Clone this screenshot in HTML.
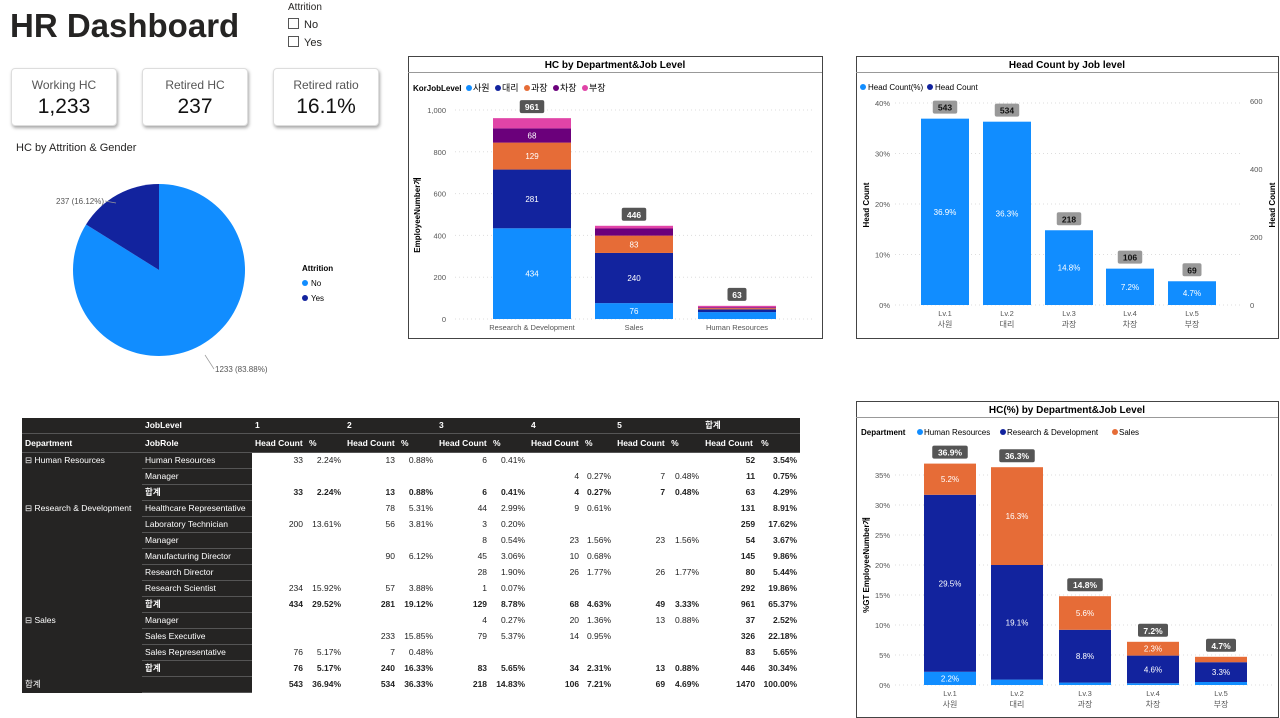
<!DOCTYPE html>
<html><head><meta charset="utf-8">
<style>
body{margin:0;width:1280px;height:718px;background:#fff;font-family:"Liberation Sans","Noto Sans CJK KR",sans-serif;position:relative;overflow:hidden;color:#252423}
.abs{position:absolute}
.card{position:absolute;top:68px;width:104px;height:56px;background:#fff;border-radius:4px;box-shadow:1px 2px 3px rgba(0,0,0,.35);border:1px solid #ddd;text-align:center}
.card .l{font-size:12px;color:#555;margin-top:9px}
.card .v{font-size:21px;color:#111;margin-top:3px}
table{border-collapse:collapse;font-size:8.5px;position:absolute;left:22px;top:418px;table-layout:fixed;width:778px}
td{height:15px;padding:0 3px;white-space:nowrap;overflow:hidden;line-height:15px}
.dk{background:#252423;color:#fff;font-weight:bold;border-bottom:1px solid #555}
.n{text-align:right;background:#fff;color:#222}
.b{font-weight:bold}
</style></head><body>
<div class="abs" style="left:10px;top:7px;font-size:33px;font-weight:bold;color:#252423">HR Dashboard</div>
<div class="abs" style="left:288px;top:2px;font-size:10px">
<div>Attrition</div>
<div style="margin-top:5px;font-size:11px"><span style="display:inline-block;width:9px;height:9px;border:1px solid #555;vertical-align:-1px;margin-right:5px"></span>No</div>
<div style="margin-top:5px;font-size:11px"><span style="display:inline-block;width:9px;height:9px;border:1px solid #555;vertical-align:-1px;margin-right:5px"></span>Yes</div>
</div>
<div class="card" style="left:11px"><div class="l">Working HC</div><div class="v">1,233</div></div>
<div class="card" style="left:142px"><div class="l">Retired HC</div><div class="v">237</div></div>
<div class="card" style="left:273px"><div class="l">Retired ratio</div><div class="v">16.1%</div></div>
<div class="abs" style="left:16px;top:142px;font-size:11px">HC by Attrition &amp; Gender</div>

<svg id="svg" class="abs" style="left:0;top:0" width="1280" height="718" xmlns="http://www.w3.org/2000/svg" font-family="Liberation Sans, Noto Sans CJK KR, sans-serif"></svg>

<table id="tbl">
<colgroup><col style="width:120px"><col style="width:110px"><col style="width:54px"><col style="width:38px"><col style="width:54px"><col style="width:38px"><col style="width:54px"><col style="width:38px"><col style="width:54px"><col style="width:32px"><col style="width:54px"><col style="width:34px"><col style="width:56px"><col style="width:42px"></colgroup>
</table>

<script>
const svgNS="http://www.w3.org/2000/svg";
const svg=document.getElementById('svg');
function el(tag,attrs,parent,text){const e=document.createElementNS(svgNS,tag);for(const k in attrs)e.setAttribute(k,attrs[k]);if(text!==undefined)e.textContent=text;(parent||svg).appendChild(e);return e;}

// ---- data ----
const pieLabels=['No','Yes'];
const pieValues=[1233,237];
const deptCats=['Research & Development','Sales','Human Resources'];
const lvlNames=['사원','대리','과장','차장','부장'];
const deptLv1=[434,76,33];
const deptLv2=[281,240,13];
const deptLv3=[129,83,6];
const deptLv4=[68,34,4];
const deptLv5=[49,13,7];
const lvCats=['Lv.1','Lv.2','Lv.3','Lv.4','Lv.5'];
const lvCount=[543,534,218,106,69];
const lvPct=[36.9,36.3,14.8,7.2,4.7];
const pctHR=[2.2,0.9,0.4,0.3,0.5];
const pctRD=[29.5,19.1,8.8,4.6,3.3];
const pctSales=[5.2,16.3,5.6,2.3,0.9];
const ticks1=[0,200,400,600,800,1000];
const ticks2=[0,10,20,30,40];
const ticks2r=[0,200,400,600];
const ticks3=[0,5,10,15,20,25,30,35];

const lvColors=['#118DFF','#12239E','#E66C37','#6B007B','#E044A7'];

// ---- pie ----
(function(){
 const cx=159,cy=270,r=86,tot=pieValues.reduce((a,b)=>a+b,0);
 const cols=['#118DFF','#12239E'];
 let a0=-Math.PI/2;
 pieValues.forEach((v,i)=>{
  const a1=a0+v/tot*2*Math.PI;
  const large=(a1-a0)>Math.PI?1:0;
  const p=el('path',{d:`M${cx},${cy} L${cx+r*Math.cos(a0)},${cy+r*Math.sin(a0)} A${r},${r} 0 ${large} 1 ${cx+r*Math.cos(a1)},${cy+r*Math.sin(a1)} Z`,fill:cols[i]});
  
  
  a0=a1;
 });
 const t1=el('text',{x:215,y:372,'font-size':8,fill:'#555'},null,'1233 (83.88%)');
 
 el('line',{x1:205,y1:355,x2:214,y2:369,stroke:'#999','stroke-width':.7});
 const t2=el('text',{x:56,y:204,'font-size':8,fill:'#555'},null,'237 (16.12%)');
 
 el('line',{x1:105,y1:201,x2:116,y2:203,stroke:'#999','stroke-width':.7});
 const lt=el('text',{x:302,y:271,'font-size':8,'font-weight':'bold'},null,'Attrition');
 
 pieLabels.forEach((l,i)=>{
  el('circle',{cx:305,cy:283+i*15,r:3,fill:cols[i]});
  const t=el('text',{x:311,y:286+i*15,'font-size':8},null,l);
  
 });
})();

function frame(x,y,w,h,title,name){
 const g=el('g',{});
 
 el('rect',{x:x+.5,y:y+.5,width:w,height:h,fill:'#fff',stroke:'#444','stroke-width':1},g);
 el('line',{x1:x,y1:y+16.5,x2:x+w,y2:y+16.5,stroke:'#999'},g);
 const t=el('text',{x:x+w/2,y:y+12,'text-anchor':'middle','font-size':10,'font-weight':'bold'},g,title);
 
 return g;
}
function badge(g,cx,y,txt,bg,fg){
 const w=txt.length*5.5+8;
 el('rect',{x:cx-w/2,y:y-7,width:w,height:13,rx:2,fill:bg},g);
 el('text',{x:cx,y:y+3,'text-anchor':'middle','font-size':8.5,'font-weight':'bold',fill:fg},g,txt);
}

// ---- chart1 ----
(function(){
 const g=frame(408,56,414,282,'HC by Department&Job Level','hc-dept-level-chart');
 const y=v=>319-v*0.209, cxs=[532,634,737], bw=78;
 el('text',{x:413,y:91,'font-size':8,'font-weight':'bold'},g,'KorJobLevel');
 let lx=469;
 lvlNames.forEach((n,i)=>{el('circle',{cx:lx,cy:88,r:3,fill:lvColors[i]},g);const t=el('text',{x:lx+4,y:91,'font-size':9},g,n);lx+=29;});
 ticks1.forEach(t=>{el('line',{x1:455,x2:815,y1:y(t),y2:y(t),stroke:'#ddd','stroke-dasharray':'1 3'},g);el('text',{x:446,y:y(t)+3,'text-anchor':'end','font-size':7.5,fill:'#555'},g,t===1000?'1,000':t);});
 const yt=el('text',{transform:'translate(420,215) rotate(-90)','text-anchor':'middle','font-size':8,'font-weight':'bold'},g,'EmployeeNumber개');
 
 const series=[deptLv1,deptLv2,deptLv3,deptLv4,deptLv5];
 deptCats.forEach((c,d)=>{
  let acc=0;
  series.forEach((s,i)=>{
   const v=s[d];
   const r=el('rect',{x:cxs[d]-bw/2,y:y(acc+v),width:bw,height:v*0.209,fill:lvColors[i]},g);
   
   if(d<2&&i<4&&v>60)el('text',{x:cxs[d],y:y(acc+v/2)+3,'text-anchor':'middle','font-size':8,fill:'#fff'},g,v);
   acc+=v;
  });
  badge(g,cxs[d],y(acc)-11,String(acc),'#555','#fff');
  el('text',{x:cxs[d],y:330,'text-anchor':'middle','font-size':7.5,fill:'#555'},g,c);
 });
})();

// ---- chart2 ----
(function(){
 const g=frame(856,56,422,282,'Head Count by Job level','headcount-level-chart');
 const y=v=>305-v*5.05, cxs=[945,1007,1069,1130,1192], bw=48;
 el('circle',{cx:863,cy:87,r:3,fill:'#118DFF'},g);el('text',{x:868,y:90,'font-size':8},g,'Head Count(%)');
 el('circle',{cx:930,cy:87,r:3,fill:'#12239E'},g);el('text',{x:935,y:90,'font-size':8},g,'Head Count');
 ticks2.forEach(t=>{el('line',{x1:895,x2:1240,y1:y(t),y2:y(t),stroke:'#ddd','stroke-dasharray':'1 3'},g);el('text',{x:890,y:y(t)+3,'text-anchor':'end','font-size':7.5,fill:'#555'},g,t+'%');});
 ticks2r.forEach(t=>{el('text',{x:1250,y:305-t*0.34+3,'font-size':7.5,fill:'#555'},g,t);});
 el('text',{transform:'translate(869,205) rotate(-90)','text-anchor':'middle','font-size':8,'font-weight':'bold'},g,'Head Count');
 el('text',{transform:'translate(1275,205) rotate(-90)','text-anchor':'middle','font-size':8,'font-weight':'bold'},g,'Head Count');
 lvCats.forEach((c,i)=>{
  const r=el('rect',{x:cxs[i]-bw/2,y:y(lvPct[i]),width:bw,height:lvPct[i]*5.05,fill:'#118DFF'},g);
  
  el('text',{x:cxs[i],y:y(lvPct[i]/2)+3,'text-anchor':'middle','font-size':8,fill:'#fff'},g,lvPct[i].toFixed(1)+'%');
  badge(g,cxs[i],y(lvPct[i])-11,String(lvCount[i]),'#999','#111');
  el('text',{x:cxs[i],y:316,'text-anchor':'middle','font-size':7.5,fill:'#555'},g,c);
  el('text',{x:cxs[i],y:327,'text-anchor':'middle','font-size':8,fill:'#555'},g,lvlNames[i]);
 });
})();

// ---- chart3 ----
(function(){
 const g=frame(856,401,422,316,'HC(%) by Department&Job Level','hc-pct-dept-level-chart');
 const y=v=>685-v*6.0, cxs=[950,1017,1085,1153,1221], bw=52;
 el('text',{x:861,y:435,'font-size':8,'font-weight':'bold'},g,'Department');
 [['Human Resources','#118DFF',920],['Research & Development','#12239E',1003],['Sales','#E66C37',1115]].forEach(a=>{el('circle',{cx:a[2],cy:432,r:3,fill:a[1]},g);el('text',{x:a[2]+4,y:435,'font-size':8},g,a[0]);});
 ticks3.forEach(t=>{el('line',{x1:895,x2:1275,y1:y(t),y2:y(t),stroke:'#ddd','stroke-dasharray':'1 3'},g);el('text',{x:890,y:y(t)+3,'text-anchor':'end','font-size':7.5,fill:'#555'},g,t+'%');});
 el('text',{transform:'translate(869,565) rotate(-90)','text-anchor':'middle','font-size':8,'font-weight':'bold'},g,'%GT EmployeeNumber개');
 const ser=[[pctHR,'#118DFF'],[pctRD,'#12239E'],[pctSales,'#E66C37']];
 lvCats.forEach((c,i)=>{
  let acc=0;
  ser.forEach((s,k)=>{
   const v=s[0][i];
   const r=el('rect',{x:cxs[i]-bw/2,y:y(acc+v),width:bw,height:v*6,fill:s[1]},g);
   
   if(v>=2)el('text',{x:cxs[i],y:y(acc+v/2)+3,'text-anchor':'middle','font-size':8,fill:'#fff'},g,v.toFixed(1)+'%');
   acc+=v;
  });
  badge(g,cxs[i],y(acc)-11,lvPct[i].toFixed(1)+'%','#555','#fff');
  el('text',{x:cxs[i],y:696,'text-anchor':'middle','font-size':7.5,fill:'#555'},g,c);
  el('text',{x:cxs[i],y:707,'text-anchor':'middle','font-size':8,fill:'#555'},g,lvlNames[i]);
 });
})();

// ---- table ----
const tRows=[
['⊟ Human Resources','Human Resources',['33','2.24%','13','0.88%','6','0.41%','','','',''],['52','3.54%'],0],
['','Manager',['','','','','','','4','0.27%','7','0.48%'],['11','0.75%'],0],
['','합계',['33','2.24%','13','0.88%','6','0.41%','4','0.27%','7','0.48%'],['63','4.29%'],1],
['⊟ Research & Development','Healthcare Representative',['','','78','5.31%','44','2.99%','9','0.61%','',''],['131','8.91%'],0],
['','Laboratory Technician',['200','13.61%','56','3.81%','3','0.20%','','','',''],['259','17.62%'],0],
['','Manager',['','','','','8','0.54%','23','1.56%','23','1.56%'],['54','3.67%'],0],
['','Manufacturing Director',['','','90','6.12%','45','3.06%','10','0.68%','',''],['145','9.86%'],0],
['','Research Director',['','','','','28','1.90%','26','1.77%','26','1.77%'],['80','5.44%'],0],
['','Research Scientist',['234','15.92%','57','3.88%','1','0.07%','','','',''],['292','19.86%'],0],
['','합계',['434','29.52%','281','19.12%','129','8.78%','68','4.63%','49','3.33%'],['961','65.37%'],1],
['⊟ Sales','Manager',['','','','','4','0.27%','20','1.36%','13','0.88%'],['37','2.52%'],0],
['','Sales Executive',['','','233','15.85%','79','5.37%','14','0.95%','',''],['326','22.18%'],0],
['','Sales Representative',['76','5.17%','7','0.48%','','','','','',''],['83','5.65%'],0],
['','합계',['76','5.17%','240','16.33%','83','5.65%','34','2.31%','13','0.88%'],['446','30.34%'],1],
['합계','',['543','36.94%','534','36.33%','218','14.83%','106','7.21%','69','4.69%'],['1470','100.00%'],1]
];
const tbl=document.getElementById('tbl');
let h='<tr><td class="dk"></td><td class="dk">JobLevel</td><td class="dk" colspan="2">1</td><td class="dk" colspan="2">2</td><td class="dk" colspan="2">3</td><td class="dk" colspan="2">4</td><td class="dk" colspan="2">5</td><td class="dk" colspan="2">합계</td></tr>';
h+='<tr style="height:19px"><td class="dk">Department</td><td class="dk">JobRole</td>'+'<td class="dk">Head Count</td><td class="dk">%</td>'.repeat(6)+'</tr>';
tRows.forEach(r=>{
 h+='<tr><td class="dk" style="border-bottom:none;font-weight:normal">'+r[0]+'</td><td class="dk" style="font-weight:'+(r[4]?'bold':'normal')+'">'+r[1]+'</td>';
 r[2].forEach(v=>h+='<td class="n'+(r[4]?' b':'')+'">'+v+'</td>');
 r[3].forEach(v=>h+='<td class="n b">'+v+'</td>');
 h+='</tr>';
});
tbl.insertAdjacentHTML('beforeend',h);
</script>
</body></html>
